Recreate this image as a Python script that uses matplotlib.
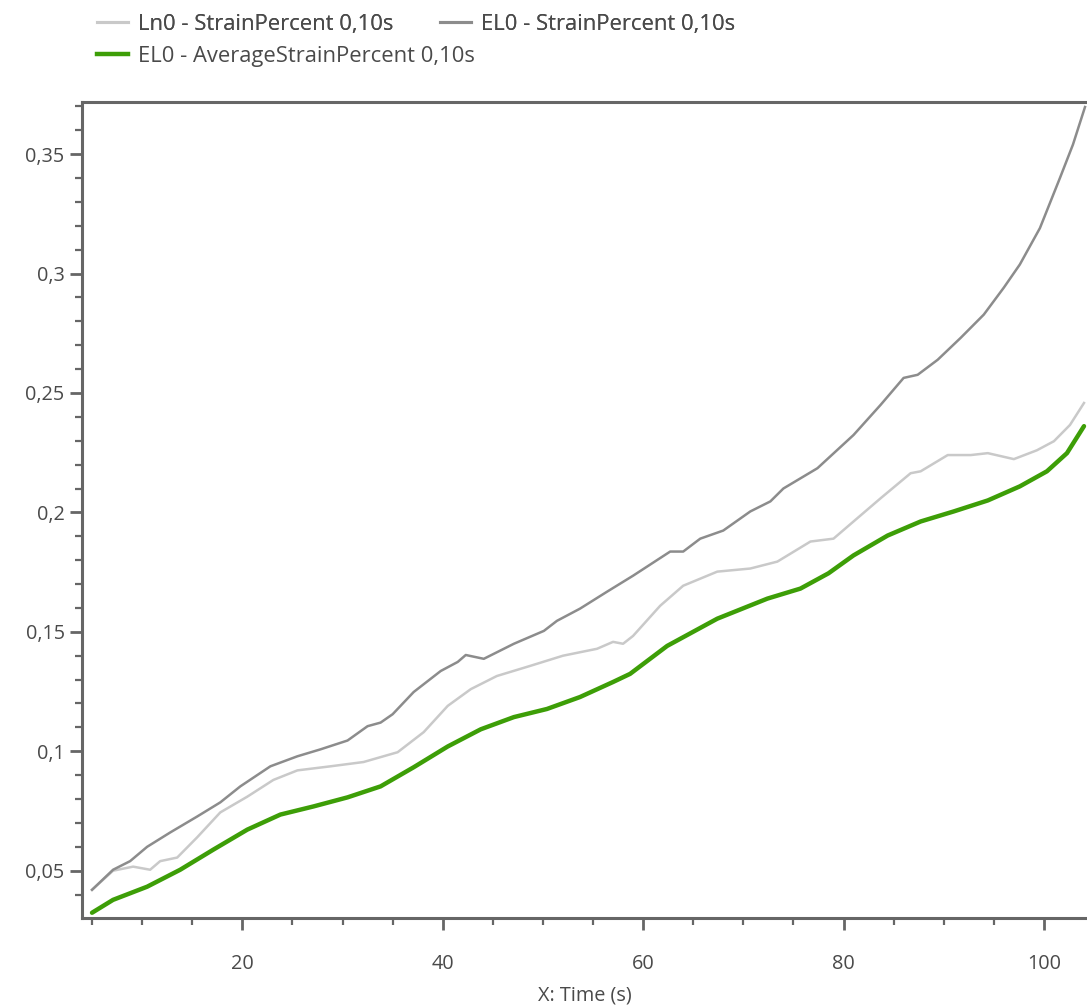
import matplotlib
matplotlib.use("Agg")
import matplotlib.pyplot as plt
from matplotlib.ticker import MultipleLocator, FuncFormatter
from matplotlib.lines import Line2D

# ---- data ----
t_ln0 = [5.0, 7.1, 9.1, 10.8, 11.8, 13.5, 15.5, 17.8, 20.5, 23.1, 25.5, 28.8, 32.1, 35.5,
         38.1, 40.5, 42.8, 45.4, 48.7, 52.0, 55.4, 57.0, 58.0, 59.0, 61.7, 64.0, 67.4,
         70.7, 73.4, 76.7, 79.0, 81.0, 83.7, 86.7, 87.7, 90.4, 92.7, 94.4, 97.0, 99.3,
         101.0, 102.6, 104.0]
v_ln0 = [0.042, 0.050, 0.0517, 0.0504, 0.054, 0.0555, 0.064, 0.0744, 0.081, 0.088, 0.092,
         0.0937, 0.0955, 0.0996, 0.108, 0.119, 0.126, 0.1315, 0.1357, 0.140, 0.1429, 0.1458,
         0.145, 0.1483, 0.1609, 0.1693, 0.1752, 0.1765, 0.1794, 0.1878, 0.189, 0.1962,
         0.2059, 0.2164, 0.2172, 0.224, 0.224, 0.2248, 0.2223, 0.226, 0.2298, 0.2366, 0.2458]

t_el0 = [5.0, 7.1, 8.8, 10.5, 12.8, 15.5, 17.8, 19.8, 22.8, 25.5, 27.8, 30.5, 32.5, 33.8,
         35.0, 37.1, 39.8, 41.5, 42.3, 44.1, 47.1, 50.1, 51.4, 53.7, 56.4, 59.0, 62.7,
         64.0, 65.7, 68.0, 70.7, 72.7, 74.0, 77.4, 81.0, 83.7, 86.0, 87.4, 89.4, 91.7,
         94.0, 96.0, 97.6, 99.6, 101.6, 102.9, 104.1]
v_el0 = [0.042, 0.0504, 0.054, 0.060, 0.066, 0.0727, 0.0786, 0.0853, 0.0937, 0.0979,
         0.1008, 0.1045, 0.1105, 0.112, 0.1155, 0.1248, 0.1336, 0.1374, 0.1403, 0.1387,
         0.145, 0.1504, 0.1546, 0.1597, 0.1668, 0.1735, 0.1836, 0.1836, 0.189, 0.1924,
         0.2004, 0.2046, 0.210, 0.2185, 0.2324, 0.245, 0.2563, 0.2576, 0.2639, 0.2731,
         0.2828, 0.2941, 0.3038, 0.319, 0.340, 0.354, 0.3697]

t_avg = [5.0, 7.1, 10.5, 13.8, 17.1, 20.5, 23.8, 27.1, 30.5, 33.8, 37.1, 40.5, 43.8, 47.1,
         50.4, 53.7, 57.0, 58.7, 62.4, 67.4, 72.4, 75.7, 78.5, 81.0, 84.4, 87.7, 91.0,
         94.4, 97.6, 100.3, 102.3, 104.0]
v_avg = [0.0324, 0.0378, 0.0433, 0.0504, 0.0588, 0.0672, 0.0735, 0.0769, 0.0807, 0.0853,
         0.0933, 0.102, 0.1092, 0.1143, 0.1177, 0.1227, 0.129, 0.1324, 0.1441, 0.1555,
         0.1639, 0.1681, 0.1745, 0.182, 0.1903, 0.1962, 0.2004, 0.205, 0.2109, 0.2172,
         0.2248, 0.2361]

labels = ["Ln0 - StrainPercent 0,10s", "EL0 - StrainPercent 0,10s",
          "EL0 - AverageStrainPercent 0,10s"]
x_label = "X: Time (s)"

# ---- styling ----
FONT = "Open Sans"
TXT = "#4a4a4a"
C_LN0 = "#c9c9c9"
C_EL0 = "#8c8c8c"
C_AVG = "#3d9e07"
FS_TICK = 14.3
FS_LEG = 15.8

plt.rcParams["font.family"] = [FONT, "DejaVu Sans"]

fig = plt.figure(figsize=(10.87, 10.05), dpi=100)
W, H = 1087, 1005
left, right, top, bottom = 82, 1087, 102, 918
ax = fig.add_axes([left / W, (H - bottom) / H, (right - left) / W, (bottom - top) / H])

ax.plot(t_ln0, v_ln0, color=C_LN0, lw=1.8, solid_joinstyle="round")
ax.plot(t_el0, v_el0, color=C_EL0, lw=1.8, solid_joinstyle="round")
ax.plot(t_avg, v_avg, color=C_AVG, lw=3.2, solid_joinstyle="round", solid_capstyle="round")

ax.set_xlim(4.0, 104.3)
ax.set_ylim(0.0302, 0.3718)

ax.xaxis.set_major_locator(MultipleLocator(20))
ax.xaxis.set_minor_locator(MultipleLocator(5))
ax.yaxis.set_major_locator(MultipleLocator(0.05))
ax.yaxis.set_minor_locator(MultipleLocator(0.01))

ax.xaxis.set_major_formatter(FuncFormatter(lambda v, p: f"{v:g}"))
ax.yaxis.set_major_formatter(FuncFormatter(lambda v, p: f"{round(v, 2):g}".replace(".", ",")))

for s in ["left", "bottom", "top"]:
    ax.spines[s].set_color("#666666")
    ax.spines[s].set_linewidth(2.2)
ax.spines["right"].set_visible(False)

ax.tick_params(which="major", direction="out", length=8.5, width=2.0, color="#666666",
               labelsize=FS_TICK, labelcolor=TXT, pad=4)
ax.tick_params(which="minor", direction="out", length=5, width=1.6, color="#666666")
ax.tick_params(axis="x", which="major", pad=17.5)

fig.text((left + right) / 2 / W, 1 - 995 / H, x_label, fontsize=FS_TICK, color=TXT,
         ha="center", va="center")

# legend: first row holds two entries, second row one entry (flow layout)
h_ln0 = Line2D([], [], color=C_LN0, lw=2.2)
h_el0 = Line2D([], [], color=C_EL0, lw=2.2)
h_avg = Line2D([], [], color=C_AVG, lw=3.2)
common = dict(loc="upper left", frameon=False, fontsize=FS_LEG, labelcolor=TXT,
              handlelength=1.4, handletextpad=0.45, borderpad=0, borderaxespad=0)
leg1 = fig.legend([h_ln0, h_el0], [labels[0], labels[1]], ncol=2,
                  bbox_to_anchor=(97 / W, 1 - 14 / H), columnspacing=2.15, **common)
fig.add_artist(leg1)
fig.legend([h_avg], [labels[2]], bbox_to_anchor=(97 / W, 1 - 46 / H), **common)

fig.savefig("out.png", dpi=100, facecolor="white")
